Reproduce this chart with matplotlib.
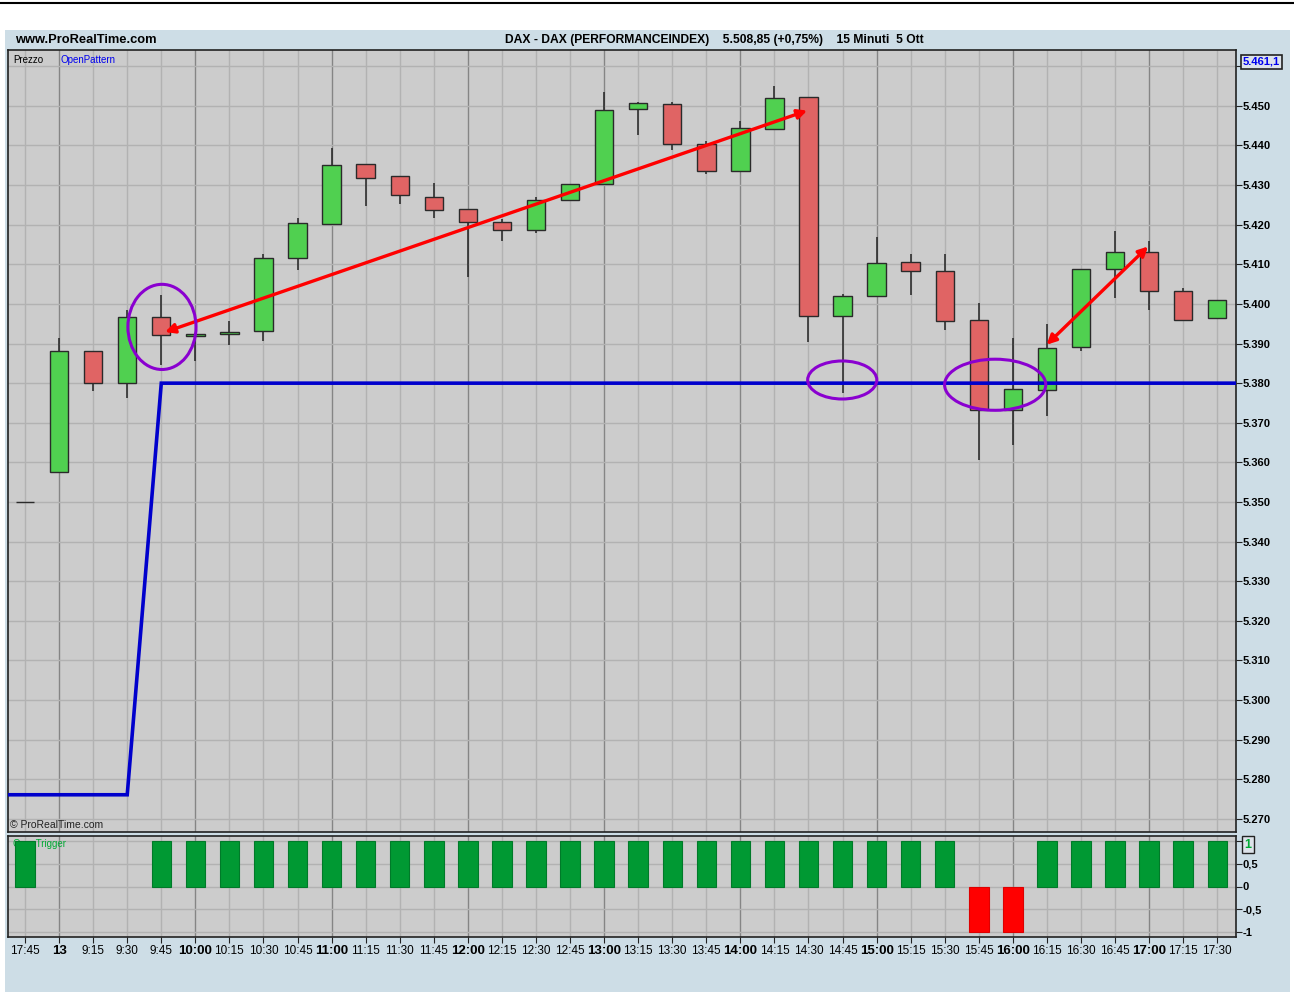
import matplotlib
matplotlib.use("Agg")
import matplotlib.pyplot as plt
from matplotlib.patches import Ellipse, Rectangle
from matplotlib.lines import Line2D
import numpy as np

plt.rcParams['font.family'] = ['Liberation Sans', 'DejaVu Sans']

# ---------------- data ----------------
time_labels = ["17:45", "13", "9:15", "9:30", "9:45", "10:00", "10:15", "10:30", "10:45",
               "11:00", "11:15", "11:30", "11:45", "12:00", "12:15", "12:30", "12:45",
               "13:00", "13:15", "13:30", "13:45", "14:00", "14:15", "14:30", "14:45",
               "15:00", "15:15", "15:30", "15:45", "16:00", "16:15", "16:30", "16:45",
               "17:00", "17:15", "17:30"]
bold_labels = ["13", "10:00", "11:00", "12:00", "13:00", "14:00", "15:00", "16:00", "17:00"]

opens = [5.3500, 5.3575, 5.3880, 5.3800, 5.3967, 5.3920, 5.3924, 5.3932, 5.4116,
         5.4201, 5.4353, 5.4323, 5.4271, 5.4239, 5.4206, 5.4187, 5.4262, 5.4304,
         5.4491, 5.4504, 5.4404, 5.4336, 5.4441, 5.4523, 5.3970, 5.4021, 5.4105,
         5.4084, 5.3960, 5.3732, 5.3782, 5.3891, 5.4088, 5.4132, 5.4033, 5.3965]
highs = [5.3500, 5.3915, 5.3880, 5.3985, 5.4023, 5.3925, 5.3957, 5.4125, 5.4217,
         5.4393, 5.4353, 5.4323, 5.4305, 5.4239, 5.4215, 5.4270, 5.4304, 5.4535,
         5.4510, 5.4510, 5.4412, 5.4462, 5.4550, 5.4523, 5.4025, 5.4170, 5.4126,
         5.4126, 5.4003, 5.3914, 5.3949, 5.4088, 5.4184, 5.4160, 5.4040, 5.4009]
lows = [5.3500, 5.3575, 5.3780, 5.3762, 5.3846, 5.3855, 5.3897, 5.3907, 5.4086,
        5.4201, 5.4246, 5.4252, 5.4216, 5.4068, 5.4159, 5.4178, 5.4259, 5.4304,
        5.4427, 5.4389, 5.4327, 5.4336, 5.4441, 5.3905, 5.3776, 5.4021, 5.4023,
        5.3933, 5.3606, 5.3644, 5.3717, 5.3882, 5.4014, 5.3985, 5.3960, 5.3965]
closes = [5.3500, 5.3880, 5.3800, 5.3967, 5.3921, 5.3925, 5.3930, 5.4116, 5.4205,
          5.4350, 5.4319, 5.4274, 5.4238, 5.4206, 5.4187, 5.4263, 5.4304, 5.4490,
          5.4507, 5.4403, 5.4336, 5.4444, 5.4520, 5.3970, 5.4021, 5.4103, 5.4083,
          5.3957, 5.3732, 5.3786, 5.3889, 5.4088, 5.4132, 5.4032, 5.3960, 5.4009]
open_pattern = [5.2761, 5.2761, 5.2761, 5.2761] + [5.3800] * 32
open_trigger = [1, 0, 0, 0] + [1] * 24 + [-1, -1] + [1] * 6

price_ticks = [5.270, 5.280, 5.290, 5.300, 5.310, 5.320, 5.330, 5.340, 5.350, 5.360,
               5.370, 5.380, 5.390, 5.400, 5.410, 5.420, 5.430, 5.440, 5.450]
last_price_label = "5.461,1"
last_price_value = 5.4611

# --------------- figure ---------------
W, H = 1294, 992
fig = plt.figure(figsize=(W / 100, H / 100), dpi=100, facecolor='white')

BG_BLUE = '#cddde6'
PLOT_BG = '#cccccc'
GRID = '#b2b2b2'
GRID_HOUR = '#858585'
GREEN = '#50d050'
RED = '#e06464'

def fx(px):
    return px / W

def fy(py):
    return 1 - py / H

# blue background + top white band with black line
fig.patches.append(Rectangle((fx(5), 0), fx(1290) - fx(5), fy(30), transform=fig.transFigure,
                             facecolor=BG_BLUE, edgecolor='none', zorder=-10))
fig.lines.append(Line2D([0, 1], [fy(3), fy(3)], transform=fig.transFigure, color='black', lw=1.5))

ax = fig.add_axes([fx(8), fy(832), fx(1236) - fx(8), fy(50) - fy(832)])
ax2 = fig.add_axes([fx(8), fy(937), fx(1236) - fx(8), fy(836) - fy(937)])

n = len(opens)
x = np.arange(n)
xlim = (-0.5, 35.55)

for a in (ax, ax2):
    a.set_facecolor(PLOT_BG)
    a.set_xlim(*xlim)
    for s in a.spines.values():
        s.set_color('#222222')
        s.set_linewidth(1.2)
    # vertical grid
    for i in range(n):
        c = GRID_HOUR if time_labels[i] in bold_labels else GRID
        a.axvline(i, color=c, lw=1.0, zorder=0)

# ----------- main price panel -----------
ax.set_ylim(5.2667, 5.4641)
grid_levels = price_ticks + [5.460]
for v in grid_levels:
    ax.axhline(v, color=GRID, lw=1.0, zorder=0)

o = np.array(opens); c = np.array(closes); h = np.array(highs); l = np.array(lows)
up = c >= o
colors = [GREEN if u else RED for u in up]
ax.vlines(x, l, h, color='#222222', lw=1.1, zorder=2)
body_bottom = np.minimum(o, c)
body_h = np.maximum(np.abs(c - o), 0.00005)
ax.bar(x, body_h, bottom=body_bottom, width=0.54, color=colors, edgecolor='#2a2a2a',
       linewidth=1.0, zorder=3)

ax.plot(np.concatenate([[xlim[0]], x, [xlim[1]]]),
        [open_pattern[0]] + list(open_pattern) + [open_pattern[-1]],
        color='#0000cc', lw=2.6, zorder=4, solid_joinstyle='miter', solid_capstyle='butt')

# annotations (arrows and ellipses)
arrow_kw = dict(arrowstyle='<|-|>', color='#ff0000', lw=2.4, mutation_scale=14,
                shrinkA=0, shrinkB=0)
ax.annotate('', xy=(22.96, 5.4488), xytext=(4.11, 5.3929), arrowprops=arrow_kw, zorder=6)
ax.annotate('', xy=(32.97, 5.4145), xytext=(29.99, 5.3897), arrowprops=arrow_kw, zorder=6)

ell_kw = dict(facecolor='none', edgecolor='#8a00d0', lw=2.2, zorder=6)
ax.add_patch(Ellipse((4.02, 5.3942), 2.0, 0.0215, **ell_kw))
ax.add_patch(Ellipse((23.99, 5.3808), 2.03, 0.0096, **ell_kw))
ax.add_patch(Ellipse((28.48, 5.3796), 2.97, 0.0129, **ell_kw))

ax.yaxis.tick_right()
ax.set_yticks(grid_levels)
ax.set_yticklabels([f"{v:.3f}" for v in price_ticks] + [""], fontsize=8, fontweight='bold')
ax.tick_params(axis='y', direction='out', length=4, pad=1, color='#222222')
ax.set_xticks([])

ax.annotate(last_price_label, xy=(1.0, last_price_value), xycoords=('axes fraction', 'data'),
            xytext=(5, 0), textcoords='offset points', ha='left', va='center',
            fontsize=8, fontweight='bold', color='#0000ee',
            bbox=dict(boxstyle='square,pad=0.15', facecolor='#dde3ea', edgecolor='#222222', lw=1.2))

ax.text(0.004, 0.9935, 'Prezzo', transform=ax.transAxes, fontsize=7, color='black', va='top', ha='left')
ax.text(0.043, 0.9935, 'OpenPattern', transform=ax.transAxes, fontsize=7, color='#0000ee', va='top', ha='left')
ax.text(0.002, 0.003, '© ProRealTime.com', transform=ax.transAxes, fontsize=7.5, color='#222222',
        va='bottom', ha='left')

# ----------- indicator panel -----------
ax2.set_ylim(-1.11, 1.11)
for v in (-1, -0.5, 0, 0.5, 1):
    ax2.axhline(v, color=GRID, lw=1.0, zorder=0)
ind_colors = ['#009933' if v > 0 else ('#ff0000' if v < 0 else 'none') for v in open_trigger]
ind_edges = ['#007a29' if v > 0 else ('#dd0000' if v < 0 else 'none') for v in open_trigger]
ax2.bar(x, open_trigger, width=0.57, color=ind_colors, edgecolor=ind_edges, lw=0.8, zorder=3)
ax2.text(0.004, 0.97, 'OpenTrigger', transform=ax2.transAxes, fontsize=7, color='#00aa33',
         va='top', ha='left', zorder=2)

ax2.yaxis.tick_right()
ax2.set_yticks([-1, -0.5, 0, 0.5, 1])
ax2.set_yticklabels(['-1', '-0,5', '0', '0,5', ''], fontsize=8, fontweight='bold')
ax2.tick_params(axis='y', direction='out', length=4, pad=1, color='#222222')
ax2.annotate('1', xy=(1.0, 0.92), xycoords=('axes fraction', 'data'),
             xytext=(6, 0), textcoords='offset points', ha='left', va='center',
             fontsize=9, fontweight='bold', color='#00aa33',
             bbox=dict(boxstyle='square,pad=0.2', facecolor='#dde3ea', edgecolor='#222222', lw=1.0))

ax2.set_xticks(x)
ax2.set_xticklabels(time_labels, fontsize=8.5)
for lab in ax2.get_xticklabels():
    if lab.get_text() in bold_labels:
        lab.set_fontweight('bold')
        lab.set_fontsize(9.5)
ax2.tick_params(axis='x', direction='out', length=4, pad=2, color='#222222')

# ----------- header -----------
fig.text(fx(15), fy(40), 'www.ProRealTime.com', fontsize=9.3, fontweight='bold', va='center', ha='left')
fig.text(fx(505), fy(40), 'DAX - DAX (PERFORMANCEINDEX)    5.508,85 (+0,75%)    15 Minuti  5 Ott',
         fontsize=8.7, fontweight='bold', va='center', ha='left')

fig.savefig('out.png', dpi=100, facecolor=fig.get_facecolor())
